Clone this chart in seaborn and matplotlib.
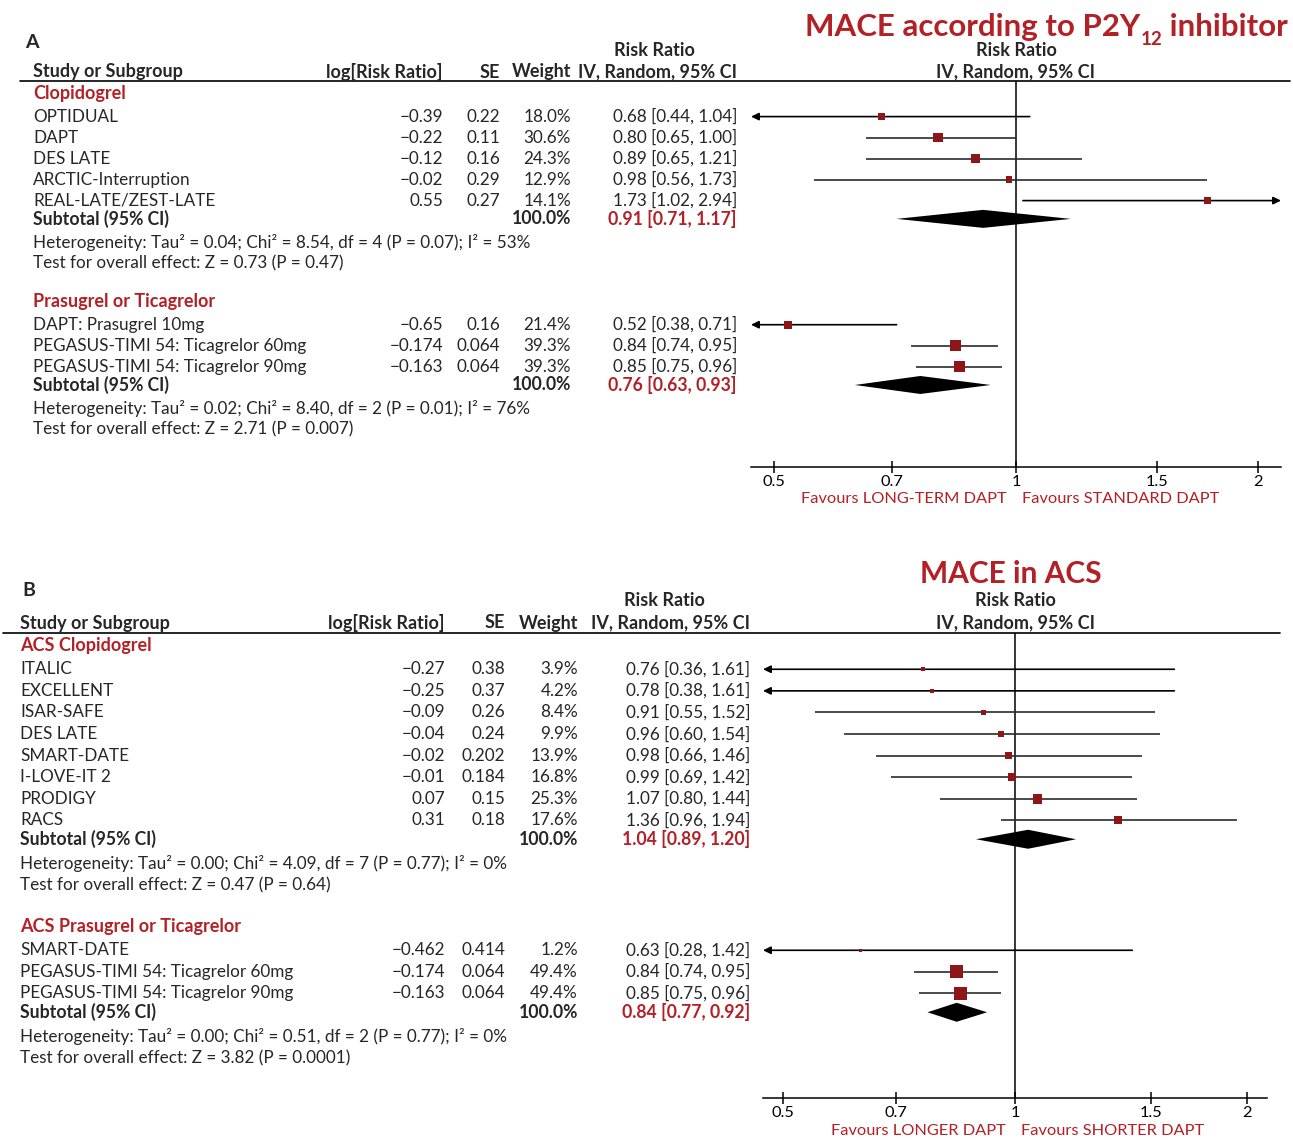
import matplotlib
matplotlib.use("Agg")
import matplotlib.pyplot as plt
from matplotlib.ticker import FixedLocator, FixedFormatter, NullLocator
import numpy as np
import pandas as pd
import seaborn as sns

sns.set_theme(style="white")
plt.rcParams["font.family"] = ["Lato", "DejaVu Sans"]

RED = "#B32025"
SQUARE_RED = "#8E1518"
FS = 12.3      # table body
FS_B = 12.7    # bold table text
FS_H = 13.0    # column headers and subgroup titles
FS_T = 11.8    # axis ticks and favours labels

# ---------------- Panel A: MACE according to P2Y12 inhibitor ----------------
a_clop_study = ["OPTIDUAL", "DAPT", "DES LATE", "ARCTIC-Interruption", "REAL-LATE/ZEST-LATE"]
a_clop_logrr = [-0.39, -0.22, -0.12, -0.02, 0.55]
a_clop_se = [0.22, 0.11, 0.16, 0.29, 0.27]
a_clop_weight = [18.0, 30.6, 24.3, 12.9, 14.1]
a_clop_rr = [0.68, 0.80, 0.89, 0.98, 1.73]
a_clop_lo = [0.44, 0.65, 0.65, 0.56, 1.02]
a_clop_hi = [1.04, 1.00, 1.21, 1.73, 2.94]
a_clop_total = [0.91, 0.71, 1.17]
a_clop_het = "Heterogeneity: Tau² = 0.04; Chi² = 8.54, df = 4 (P = 0.07); I² = 53%"
a_clop_test = "Test for overall effect: Z = 0.73 (P = 0.47)"

a_pt_study = ["DAPT: Prasugrel 10mg", "PEGASUS-TIMI 54: Ticagrelor 60mg",
              "PEGASUS-TIMI 54: Ticagrelor 90mg"]
a_pt_logrr = [-0.65, -0.174, -0.163]
a_pt_se = [0.16, 0.064, 0.064]
a_pt_weight = [21.4, 39.3, 39.3]
a_pt_rr = [0.52, 0.84, 0.85]
a_pt_lo = [0.38, 0.74, 0.75]
a_pt_hi = [0.71, 0.95, 0.96]
a_pt_total = [0.76, 0.63, 0.93]
a_pt_het = "Heterogeneity: Tau² = 0.02; Chi² = 8.40, df = 2 (P = 0.01); I² = 76%"
a_pt_test = "Test for overall effect: Z = 2.71 (P = 0.007)"

# ---------------- Panel B: MACE in ACS ----------------
b_clop_study = ["ITALIC", "EXCELLENT", "ISAR-SAFE", "DES LATE", "SMART-DATE",
                "I-LOVE-IT 2", "PRODIGY", "RACS"]
b_clop_logrr = [-0.27, -0.25, -0.09, -0.04, -0.02, -0.01, 0.07, 0.31]
b_clop_se = [0.38, 0.37, 0.26, 0.24, 0.202, 0.184, 0.15, 0.18]
b_clop_weight = [3.9, 4.2, 8.4, 9.9, 13.9, 16.8, 25.3, 17.6]
b_clop_rr = [0.76, 0.78, 0.91, 0.96, 0.98, 0.99, 1.07, 1.36]
b_clop_lo = [0.36, 0.38, 0.55, 0.60, 0.66, 0.69, 0.80, 0.96]
b_clop_hi = [1.61, 1.61, 1.52, 1.54, 1.46, 1.42, 1.44, 1.94]
b_clop_total = [1.04, 0.89, 1.20]
b_clop_het = "Heterogeneity: Tau² = 0.00; Chi² = 4.09, df = 7 (P = 0.77); I² = 0%"
b_clop_test = "Test for overall effect: Z = 0.47 (P = 0.64)"

b_pt_study = ["SMART-DATE", "PEGASUS-TIMI 54: Ticagrelor 60mg",
              "PEGASUS-TIMI 54: Ticagrelor 90mg"]
b_pt_logrr = [-0.462, -0.174, -0.163]
b_pt_se = [0.414, 0.064, 0.064]
b_pt_weight = [1.2, 49.4, 49.4]
b_pt_rr = [0.63, 0.84, 0.85]
b_pt_lo = [0.28, 0.74, 0.75]
b_pt_hi = [1.42, 0.95, 0.96]
b_pt_total = [0.84, 0.77, 0.92]
b_pt_het = "Heterogeneity: Tau² = 0.00; Chi² = 0.51, df = 2 (P = 0.77); I² = 0%"
b_pt_test = "Test for overall effect: Z = 3.82 (P = 0.0001)"

x_ticks = [0.5, 0.7, 1, 1.5, 2]
x_tick_labels = ["0.5", "0.7", "1", "1.5", "2"]


def group(label, study, logrr, se, weight, rr, lo, hi, total, het, test):
    return dict(label=label, study=study, logrr=logrr, se=se, weight=weight,
                rr=rr, lo=lo, hi=hi, total=total, het=het, test=test)


panel_a_groups = [
    group("Clopidogrel", a_clop_study, a_clop_logrr, a_clop_se, a_clop_weight,
          a_clop_rr, a_clop_lo, a_clop_hi, a_clop_total, a_clop_het, a_clop_test),
    group("Prasugrel or Ticagrelor", a_pt_study, a_pt_logrr, a_pt_se, a_pt_weight,
          a_pt_rr, a_pt_lo, a_pt_hi, a_pt_total, a_pt_het, a_pt_test),
]
panel_b_groups = [
    group("ACS Clopidogrel", b_clop_study, b_clop_logrr, b_clop_se, b_clop_weight,
          b_clop_rr, b_clop_lo, b_clop_hi, b_clop_total, b_clop_het, b_clop_test),
    group("ACS Prasugrel or Ticagrelor", b_pt_study, b_pt_logrr, b_pt_se, b_pt_weight,
          b_pt_rr, b_pt_lo, b_pt_hi, b_pt_total, b_pt_het, b_pt_test),
]

# layout of each panel, in figure pixels (y measured from the top)
layout_a = dict(letter="A", letter_xy=(25, 42), rr_head_y=51, head_y=72, line_y=81,
                line_x=(20, 1290), name_x=33, log_x=443, se_x=500, w_x=571, ci_x=737,
                rr_head_x=654, group_y=93.5, dy=21.0, group_gap=1.82,
                plot_left=751, plot_right=1281, axis_y=467, half=0.76,
                fav_y=499, fav_left="Favours LONG-TERM DAPT",
                fav_right="Favours STANDARD DAPT", square_k=1.5, diamond_h=18)
layout_b = dict(letter="B", letter_xy=(22, 590), rr_head_y=601, head_y=623, line_y=633,
                line_x=(3, 1280), name_x=20, log_x=445, se_x=505, w_x=578, ci_x=750,
                rr_head_x=664, group_y=645.5, dy=21.6, group_gap=1.92,
                plot_left=763, plot_right=1267, axis_y=1098, half=0.753,
                fav_y=1131, fav_left="Favours LONGER DAPT",
                fav_right="Favours SHORTER DAPT", square_k=1.75, diamond_h=19)

W, H = 1293, 1140
fig = plt.figure(figsize=(W / 100, H / 100), dpi=100)
tx = fig.add_axes([0, 0, 1, 1], zorder=0)
tx.set_xlim(0, W)
tx.set_ylim(H, 0)
tx.axis("off")


def num(v):
    return f"{v:g}".replace("-", "\u2212")


def ci_text(rr, lo, hi):
    return f"{rr:.2f} [{lo:.2f}, {hi:.2f}]"


def draw_panel(groups, L):
    kw = dict(fontsize=FS, va="center")
    bold = dict(fontsize=FS_B, va="center", fontweight="bold")
    head = dict(fontsize=FS_H, va="center", fontweight="bold")
    tx.text(*L["letter_xy"], L["letter"], fontsize=14, fontweight="bold", va="center")
    # table header
    tx.text(L["name_x"], L["head_y"], "Study or Subgroup", ha="left", **head)
    tx.text(L["log_x"], L["head_y"], "log[Risk Ratio]", ha="right", **head)
    tx.text(L["se_x"], L["head_y"], "SE", ha="right", **head)
    tx.text(L["w_x"], L["head_y"], "Weight", ha="right", **head)
    tx.text(L["ci_x"], L["head_y"], "IV, Random, 95% CI", ha="right", **head)
    tx.text(L["rr_head_x"], L["rr_head_y"], "Risk Ratio", ha="center", **head)
    null_x = (L["plot_left"] + L["plot_right"]) / 2
    tx.text(null_x, L["rr_head_y"], "Risk Ratio", ha="center", **head)
    tx.text(null_x, L["head_y"], "IV, Random, 95% CI", ha="center", **head)
    tx.plot(L["line_x"], [L["line_y"]] * 2, color="black", lw=1.2)

    # forest axes sharing the figure's pixel rows
    fax = fig.add_axes([L["plot_left"] / W, 1 - L["axis_y"] / H,
                        (L["plot_right"] - L["plot_left"]) / W,
                        (L["axis_y"] - L["line_y"]) / H], zorder=1)
    fax.patch.set_alpha(0)
    xmin, xmax = np.exp(-L["half"]), np.exp(L["half"])

    dy = L["dy"]
    y = L["group_y"]
    rows = []
    for g in groups:
        tx.text(L["name_x"], y, g["label"], ha="left", color=RED, **head)
        y += 1.1 * dy
        for i, name in enumerate(g["study"]):
            tx.text(L["name_x"], y, name, ha="left", **kw)
            tx.text(L["log_x"], y, num(g["logrr"][i]), ha="right", **kw)
            tx.text(L["se_x"], y, num(g["se"][i]), ha="right", **kw)
            tx.text(L["w_x"], y, f"{g['weight'][i]:.1f}%", ha="right", **kw)
            tx.text(L["ci_x"], y, ci_text(g["rr"][i], g["lo"][i], g["hi"][i]), ha="right", **kw)
            rows.append(dict(rr=g["rr"][i], lo=g["lo"][i], hi=g["hi"][i],
                             weight=g["weight"][i], y=y))
            y += dy
        y += 0.87 * dy - dy
        est, lo, hi = g["total"]
        tx.text(L["name_x"], y, "Subtotal (95% CI)", ha="left", **bold)
        tx.text(L["w_x"], y, "100.0%", ha="right", **bold)
        tx.text(L["ci_x"], y, ci_text(est, lo, hi), ha="right", color=RED, **bold)
        h = L["diamond_h"] / 2
        fax.fill([lo, est, hi, est], [y, y - h, y, y + h], color="black", lw=0, zorder=3)
        y += 1.12 * dy
        tx.text(L["name_x"], y, g["het"], ha="left", **kw)
        y += dy
        tx.text(L["name_x"], y, g["test"], ha="left", **kw)
        y += L["group_gap"] * dy

    df = pd.DataFrame(rows)
    # confidence intervals, with arrows where they run past the axis
    for r in df.itertuples():
        lo_c, hi_c = max(r.lo, xmin), min(r.hi, xmax)
        if r.lo < xmin or r.hi > xmax:
            start, end = (hi_c, lo_c) if r.lo < xmin else (lo_c, hi_c)
            fax.annotate("", xy=(end, r.y), xytext=(start, r.y), annotation_clip=False,
                         arrowprops=dict(arrowstyle="-|>,head_length=0.45,head_width=0.22",
                                         mutation_scale=10, color="black", lw=1.2,
                                         shrinkA=0, shrinkB=0), zorder=2)
        else:
            fax.hlines(r.y, lo_c, hi_c, color="#2b2b2b", lw=1.2, zorder=2)

    # study squares, area proportional to weight
    k = L["square_k"]
    sns.scatterplot(data=df, x="rr", y="y", size="weight", size_norm=(0, 100),
                    sizes=(3, 3 + k * 100), marker="s", color=SQUARE_RED, linewidth=0,
                    legend=False, ax=fax, zorder=4)

    fax.axvline(1, color="black", lw=1.1, zorder=1)
    fax.set_xscale("log")
    fax.set_xlim(xmin, xmax)
    fax.set_ylim(L["axis_y"], L["line_y"])
    fax.xaxis.set_major_locator(FixedLocator(x_ticks))
    fax.xaxis.set_major_formatter(FixedFormatter(x_tick_labels))
    fax.xaxis.set_minor_locator(NullLocator())
    fax.set_yticks([])
    fax.set_xlabel("")
    fax.set_ylabel("")
    for side in ("top", "left", "right"):
        fax.spines[side].set_visible(False)
    fax.spines["bottom"].set_color("black")
    fax.spines["bottom"].set_linewidth(1.1)
    fax.tick_params(axis="x", bottom=True, direction="inout", length=9, width=1.1,
                    colors="black", labelsize=FS_T, pad=1)

    tx.text(null_x - 9, L["fav_y"], L["fav_left"], ha="right", color=RED,
            fontsize=FS_T, va="center")
    tx.text(null_x + 6, L["fav_y"], L["fav_right"], ha="left", color=RED,
            fontsize=FS_T, va="center")


draw_panel(panel_a_groups, layout_a)
draw_panel(panel_b_groups, layout_b)

# panel titles
renderer = fig.canvas.get_renderer()
x = 805
for text, size, shift in [("MACE according to P2Y", 22.5, 0), ("12", 13.5, 9),
                          (" inhibitor", 22.5, 0)]:
    t = tx.text(x, 36 + shift, text, fontsize=size, fontweight="bold", color=RED,
                ha="left", va="baseline")
    bb = t.get_window_extent(renderer)
    x = tx.transData.inverted().transform((bb.x1, bb.y0))[0]

tx.text(1011, 574, "MACE in ACS", fontsize=21.5, fontweight="bold", color=RED,
        ha="center", va="center")

fig.savefig("out.png", dpi=100)
